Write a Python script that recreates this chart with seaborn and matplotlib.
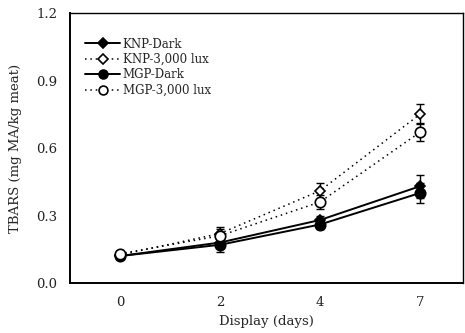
import matplotlib
matplotlib.use("Agg")
import matplotlib.pyplot as plt
import seaborn as sns
import pandas as pd
import numpy as np

days = ["0", "2", "4", "7"]
series = ["KNP-Dark", "KNP-3,000 lux", "MGP-Dark", "MGP-3,000 lux"]
knp_dark = [0.12, 0.18, 0.28, 0.43]
knp_light = [0.125, 0.22, 0.41, 0.75]
mgp_dark = [0.12, 0.17, 0.26, 0.40]
mgp_light = [0.13, 0.21, 0.36, 0.67]
knp_dark_err = [0.01, 0.02, 0.02, 0.05]
knp_light_err = [0.01, 0.03, 0.035, 0.045]
mgp_dark_err = [0.01, 0.03, 0.02, 0.045]
mgp_light_err = [0.01, 0.03, 0.03, 0.04]
yticks = [0.0, 0.3, 0.6, 0.9, 1.2]

values = [knp_dark, knp_light, mgp_dark, mgp_light]
errors = [knp_dark_err, knp_light_err, mgp_dark_err, mgp_light_err]

rows = []
for s, v, e in zip(series, values, errors):
    for i, (d, val, err) in enumerate(zip(days, v, e)):
        rows.append({"series": s, "day": d, "pos": i, "value": val, "err": err})
df = pd.DataFrame(rows)

sns.set_theme(style="white")
plt.rcParams["font.family"] = ["DejaVu Serif"]

fig = plt.figure(figsize=(4.65, 3.33), dpi=100)
ax = fig.add_axes([0.1505, 0.150, 0.845, 0.811])

styles = {
    "KNP-Dark": dict(marker="D", mfc="black", ls="-", ms=5.5, lw=1.4),
    "KNP-3,000 lux": dict(marker="D", mfc="white", ls=(0, (1, 2.5)), ms=5.5, lw=1.1),
    "MGP-Dark": dict(marker="o", mfc="black", ls="-", ms=7.5, lw=1.4),
    "MGP-3,000 lux": dict(marker="o", mfc="white", ls=(0, (1, 2.5)), ms=7.5, lw=1.1),
}

for s in series:
    sub = df[df.series == s]
    st = styles[s]
    ax.errorbar(sub["pos"], sub["value"], yerr=sub["err"], fmt="none",
                ecolor="black", elinewidth=1.0, capsize=3, capthick=1.0, zorder=2)
    sns.lineplot(data=sub, x="pos", y="value", ax=ax, color="black",
                 linestyle=st["ls"], linewidth=st["lw"], marker=st["marker"],
                 markersize=st["ms"], markerfacecolor=st["mfc"],
                 markeredgecolor="black", markeredgewidth=1.2,
                 label=s, zorder=3, errorbar=None)

ax.set_xlim(-0.5, 3.43)
ax.set_ylim(0, 1.2)
ax.set_xticks(range(len(days)))
ax.set_xticklabels(days)
ax.set_yticks(yticks)
ax.set_yticklabels([f"{t:.1f}" for t in yticks])
ax.tick_params(axis="both", length=0, labelsize=9.5, colors="#222222", pad=9)
ax.set_xlabel("Display (days)", fontsize=9.5, labelpad=5)
ax.set_ylabel("TBARS (mg MA/kg meat)", fontsize=9.5, labelpad=10)
for sp in ax.spines.values():
    sp.set_color("black")
    sp.set_linewidth(1.0)
ax.spines["left"].set_linewidth(1.4)
ax.spines["bottom"].set_linewidth(1.4)

leg = ax.legend(loc="upper left", bbox_to_anchor=(0.02, 0.935), frameon=False,
                fontsize=8.5, handlelength=3.0, labelspacing=0.2,
                handletextpad=0.2, borderaxespad=0.2)
for h in leg.legend_handles:
    h.set_markersize(h.get_markersize() * 0.85)

fig.savefig("out.png", dpi=100)
